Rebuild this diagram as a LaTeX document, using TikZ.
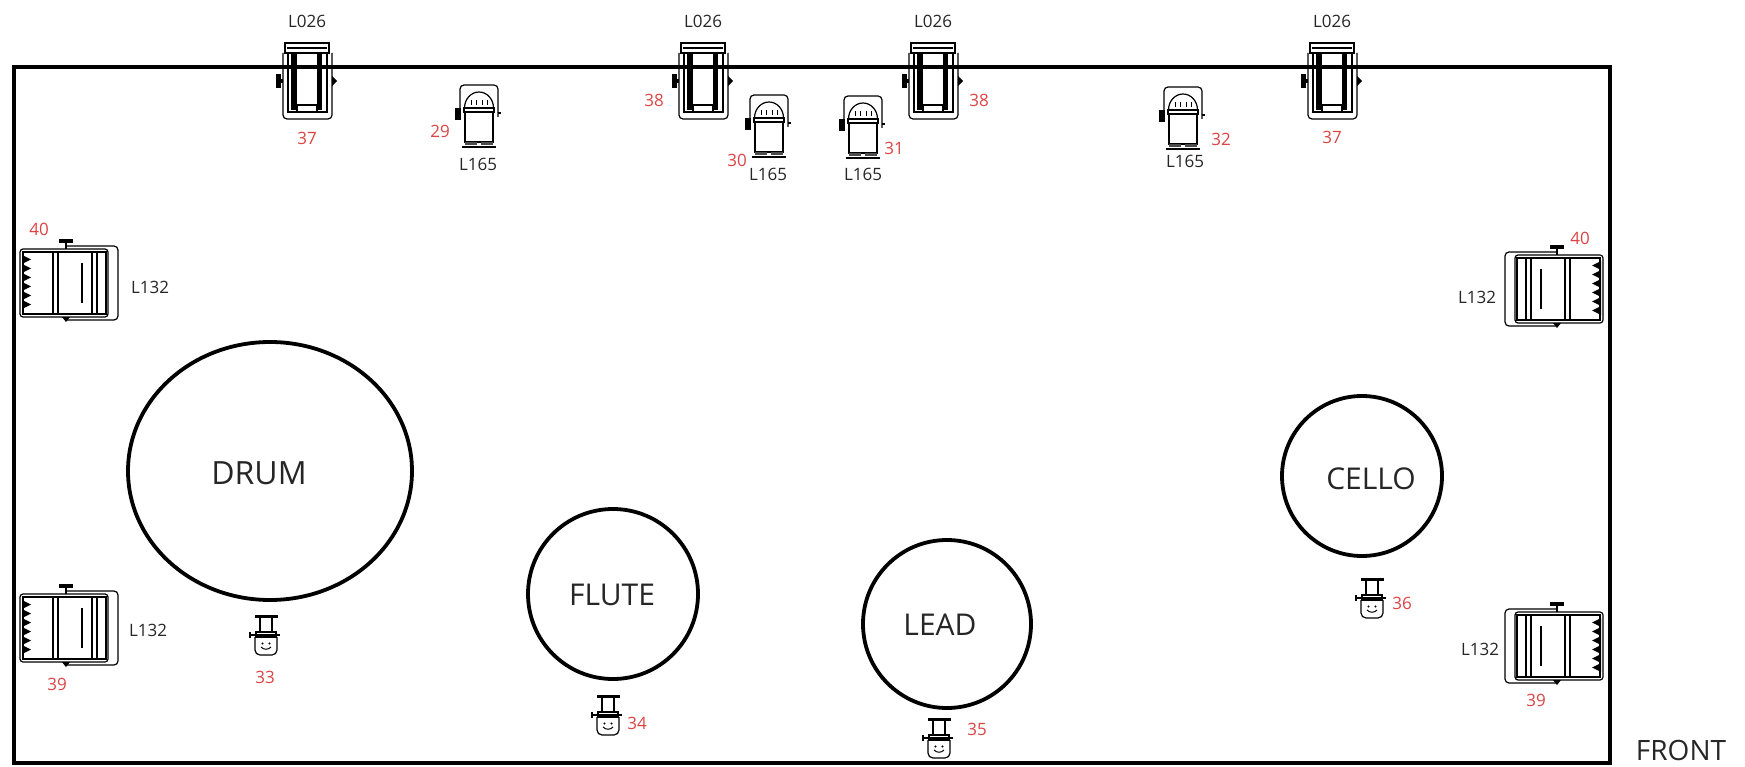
\documentclass[tikz,border=0pt]{standalone}
\usepackage{fontspec}
\setmainfont{Open Sans}
\usepackage{xcolor}
\usepackage{tikz}
\usetikzlibrary{positioning,calc}

\definecolor{chanred}{RGB}{220,68,68}
\definecolor{labelgray}{RGB}{38,38,38}

\tikzset{
    fix/.style={line width=1.2pt, black},
    lbl/.style={font=\fontsize{17}{20}\selectfont, text=labelgray, inner sep=0pt},
    chan/.style={font=\fontsize{17}{20}\selectfont, text=chanred, inner sep=0pt},
    area/.style={font=\fontsize{30}{34}\selectfont, text=labelgray, inner sep=0pt},
    % L026 profile on the top truss, origin on the truss line
    profile/.pic={
        \draw[fix] (-22,-24) rectangle (22,-14);
        \draw[fix] (-20,-19) -- (20,-19);
        \draw[fix, rounded corners=4] (-24,-14) -- (-24,52) -- (25,52) -- (25,-14);
        \draw[fix] (-19,-14) rectangle (20,45);
        \fill (-16,-14) rectangle (-10,43);
        \fill (10,-14) rectangle (15,43);
        \draw[fix] (-10,38) rectangle (10,45);
        \fill (-31,7) rectangle (-26,21);
        \fill (-26,12) rectangle (-24,16);
        \fill (25,9) -- (30,14) -- (25,19) -- cycle;
    },
    % L165 fresnel, origin at top of yoke
    fresnel/.pic={
        \draw[fix, rounded corners=4] (-19,32) -- (-19,0) -- (19,0) -- (19,32);
        \draw[fix] (-14.5,23) arc[start angle=180, end angle=360, x radius=14.5, y radius=16];
        \foreach \t in {-8,-3,3,8}
            \draw[line width=1pt] (\t,15) -- (\t,20);
        \draw[fix] (-15,23) rectangle (15,27);
        \draw[fix] (-14,27) rectangle (14,57);
        \fill[black!70] (-14,57) rectangle (-2,60);
        \fill[black!70] (2,57) rectangle (14,60);
        \draw[line width=1.8pt] (-17,62) -- (17,62);
        \fill (-24,23) rectangle (-18,35);
        \draw[line width=1.5pt] (19,28) -- (22,28);
    },
    % L132 flood, origin at centre, lens side to the left
    flood/.pic={
        \draw[fix, rounded corners=4] (-1,-37) -- (50,-37) -- (50,37) -- (-1,37);
        \draw[fix, rounded corners=3] (-48,-34) rectangle (40,34);
        \draw[fix] (-45,-31) rectangle (38,31);
        \draw[fix] (-15,-31) -- (-15,31);
        \draw[fix] (-10,-31) -- (-10,31);
        \draw[fix] (24,-31) -- (24,31);
        \draw[fix] (29,-31) -- (29,31);
        \draw[fix] (14,-20) -- (14,20);
        \fill (-46,-28) \foreach \k in {0,...,5} { -- (-37,-28+9*\k+4.5) -- (-46,-28+9*\k+9) } -- cycle;
        \fill (-9,-44) rectangle (5,-40);
        \draw[line width=2pt] (-2,-40) -- (-2,-34);
        \fill (-6,34) -- (2,34) -- (-2,39) -- cycle;
    },
    % small front fixture, origin at top centre
    spot/.pic={
        \fill (-11,0) rectangle (12,3);
        \draw[fix] (-6,3) -- (-6,17);
        \draw[fix] (6,3) -- (6,17);
        \draw[fix] (-10,17) rectangle (10,22);
        \draw[line width=1.6pt] (-16,20) -- (14,20);
        \fill (-17,17) rectangle (-15,23);
        \draw[fix, rounded corners=5] (-11,22) -- (-11,40) -- (11,40) -- (11,22);
        \fill (-3.5,28.5) circle (1.2);
        \fill (3.5,28.5) circle (1.2);
        \draw[line width=1pt] (-5,32) to[bend right=50] (5,32);
    }
}

\begin{document}
\begin{tikzpicture}[x=1pt, y=-1pt]
    \useasboundingbox (0,0) rectangle (1745,767);

    % Stage outline
    \draw[line width=4.5pt] (14,67) rectangle (1610,763);
    \node[font=\fontsize{28}{32}\selectfont, text=labelgray, inner sep=0pt] (front) at (1681,750) {FRONT};

    % Performer areas
    \draw[line width=3.8pt] (270,471) ellipse [x radius=142, y radius=129];
    \draw[line width=3.8pt] (613,594) circle [radius=85];
    \draw[line width=3.8pt] (947,624) circle [radius=84];
    \draw[line width=3.8pt] (1362,476) circle [radius=80];
    \node[area, font=\fontsize{32}{36}\selectfont] (drum) at (259,473) {DRUM};
    \node[area] (flute) at (612,595) {FLUTE};
    \node[area] (lead) at (940,625) {LEAD};
    \node[area] (cello) at (1371,479) {CELLO};

    % Top profiles L026
    \foreach \px/\nm in {307/pa, 703/pb, 933/pc, 1332/pd} {
        \pic at (\px,67) {profile};
        \node[lbl] (\nm) at (\px,21) {L026};
    }
    \node[chan] (c37a) at (307,138) {37};
    \node[chan] (c38a) at (654,100) {38};
    \node[chan] (c38b) at (979,100) {38};
    \node[chan] (c37b) at (1332,137) {37};

    % Fresnels L165
    \pic at (479,85) {fresnel};
    \pic at (769,95) {fresnel};
    \pic at (863,96) {fresnel};
    \pic at (1183,87) {fresnel};
    \node[lbl] (fa) at (478,164) {L165};
    \node[lbl] (fb) at (768,174) {L165};
    \node[lbl] (fc) at (863,174) {L165};
    \node[lbl] (fd) at (1185,161) {L165};
    \node[chan] (c29) at (440,131) {29};
    \node[chan] (c30) at (737,160) {30};
    \node[chan] (c31) at (894,148) {31};
    \node[chan] (c32) at (1221,139) {32};

    % Side floods L132
    \pic at (68,283) {flood};
    \pic at (68,628) {flood};
    \pic[xscale=-1] at (1555,289) {flood};
    \pic[xscale=-1] at (1555,646) {flood};
    \node[lbl] (fla) at (150,287) {L132};
    \node[lbl] (flb) at (148,630) {L132};
    \node[lbl] (flc) at (1477,297) {L132};
    \node[lbl] (fld) at (1480,649) {L132};
    \node[chan] (c40a) at (39,229) {40};
    \node[chan] (c39a) at (57,684) {39};
    \node[chan] (c40b) at (1580,238) {40};
    \node[chan] (c39b) at (1536,700) {39};

    % Front specials
    \pic at (266,615) {spot};
    \pic at (608,695) {spot};
    \pic at (939,718) {spot};
    \pic at (1372,578) {spot};
    \node[chan] (c33) at (265,677) {33};
    \node[chan] (c34) at (637,723) {34};
    \node[chan] (c35) at (977,729) {35};
    \node[chan] (c36) at (1402,603) {36};
\end{tikzpicture}
\end{document}
